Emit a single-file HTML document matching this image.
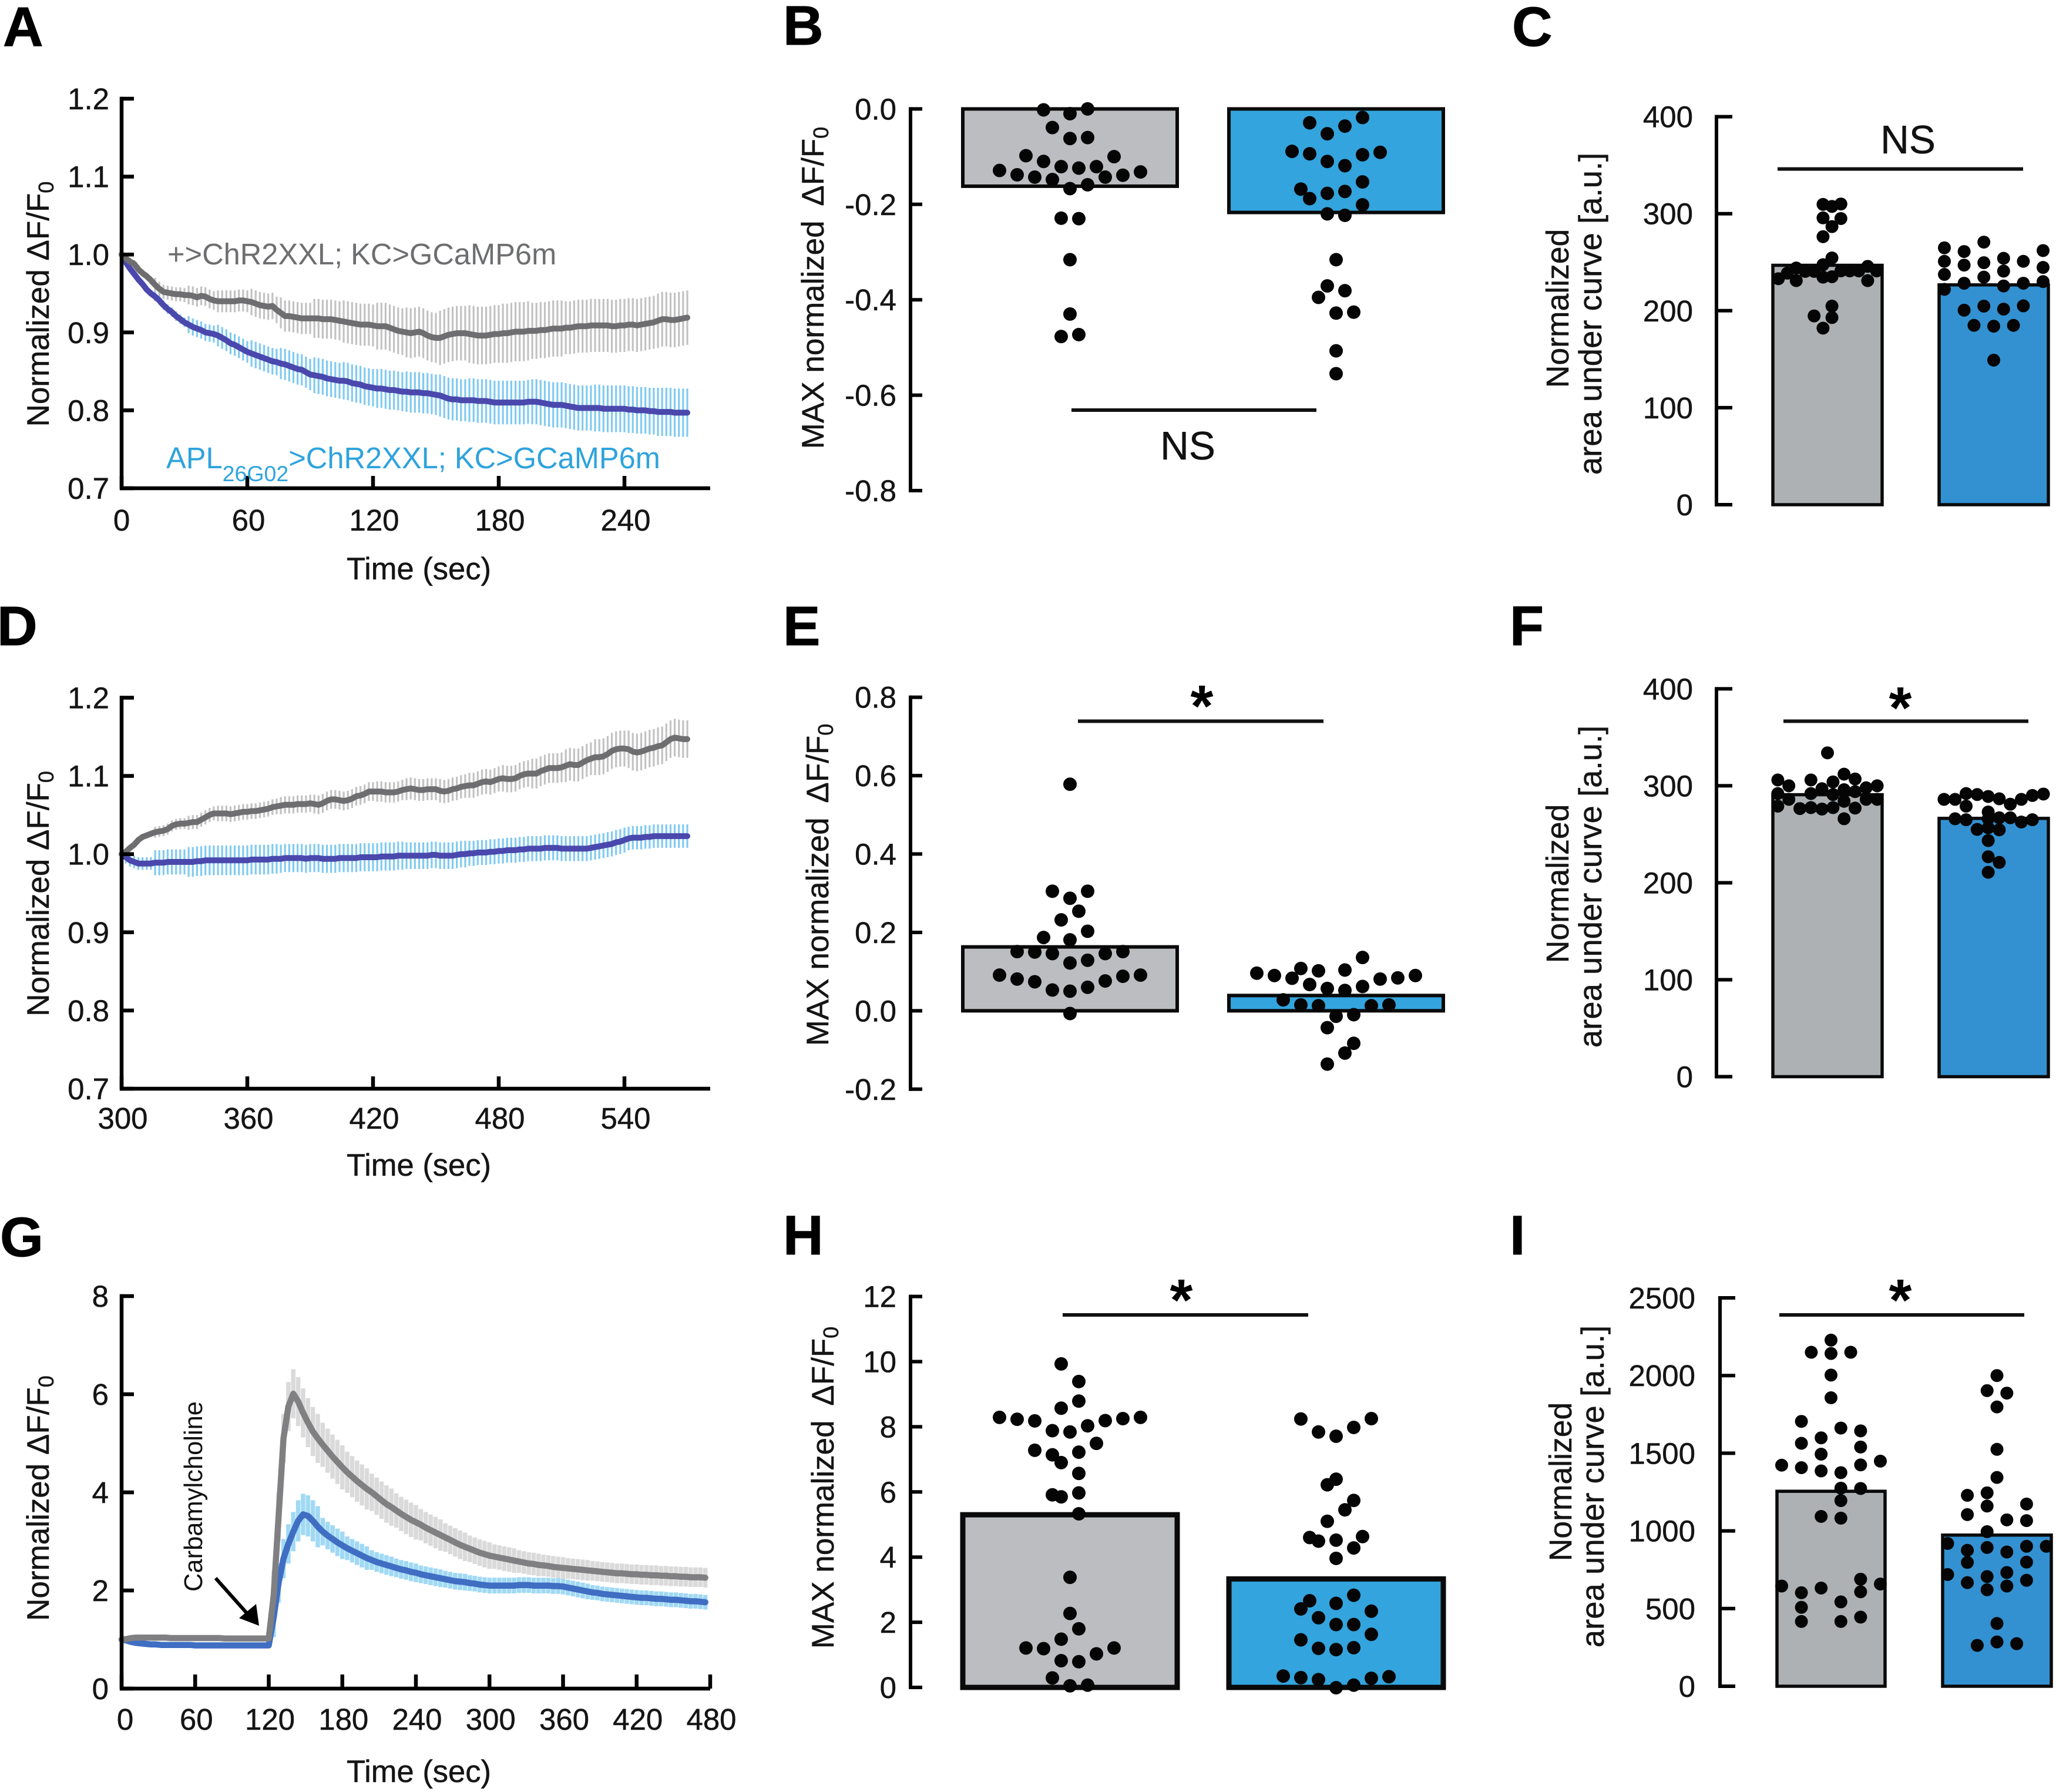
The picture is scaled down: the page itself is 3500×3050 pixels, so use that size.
<!DOCTYPE html>
<html lang="en">
<head>
<meta charset="utf-8">
<title>Normalized calcium response panels A to I</title>
<style>
html,body{margin:0;padding:0;background:#fff;}
svg{display:block;font-family:"Liberation Sans",sans-serif;}
.letter{font-size:95px;font-weight:bold;fill:#000;stroke:#000;stroke-width:1;}
.axis-title{font-size:53px;fill:#151515;text-anchor:middle;stroke:#151515;stroke-width:.5;}
.line-two{font-size:54.5px;}
.line-one{font-size:53.5px;}
.time-title{font-size:52.5px;}
.tick-text{font-size:51px;fill:#151515;stroke:#151515;stroke-width:.5;}
.sig{font-size:67.5px;fill:#111;text-anchor:middle;stroke:#111;stroke-width:.5;}
.star{font-size:100px;font-weight:bold;fill:#000;text-anchor:middle;}
</style>
</head>
<body>
<svg id="figure" xmlns="http://www.w3.org/2000/svg" width="3500" height="3050" viewBox="0 0 3500 3050">
<rect x="0" y="0" width="3500" height="3050" fill="#fff"/>

<g id="panel-a">
<text class="letter" x="5" y="78">A</text>
<text class="axis-title" transform="translate(83,517.5) rotate(-90)">Normalized ΔF/F<tspan font-size="36" dy="8">0</tspan></text>
<text class="axis-title time-title" x="713" y="986">Time (sec)</text>
</g>
<g id="panel-b">
<text class="letter" x="1333" y="76">B</text>
<text class="axis-title" transform="translate(1402,490) rotate(-90)">MAX normalized <tspan dx="10">ΔF/F</tspan><tspan font-size="36" dy="8">0</tspan></text>
</g>
<g id="panel-c">
<text class="letter" x="2574" y="78">C</text>
<text class="axis-title line-one" transform="translate(2670,525) rotate(-90)">Normalized</text>
<text class="axis-title line-two" transform="translate(2726,534) rotate(-90)">area under curve [a.u.]</text>
</g>
<g id="panel-d">
<text class="letter" x="-5" y="1098">D</text>
<text class="axis-title" transform="translate(83,1521) rotate(-90)">Normalized ΔF/F<tspan font-size="36" dy="8">0</tspan></text>
<text class="axis-title time-title" x="713" y="2001">Time (sec)</text>
</g>
<g id="panel-e">
<text class="letter" x="1333" y="1098">E</text>
<text class="axis-title" transform="translate(1410,1506) rotate(-90)">MAX normalized <tspan dx="10">ΔF/F</tspan><tspan font-size="36" dy="8">0</tspan></text>
</g>
<g id="panel-f">
<text class="letter" x="2570" y="1098">F</text>
<text class="axis-title line-one" transform="translate(2670,1504) rotate(-90)">Normalized</text>
<text class="axis-title line-two" transform="translate(2726,1509) rotate(-90)">area under curve [a.u.]</text>
</g>
<g id="panel-g">
<text class="letter" x="0" y="2138">G</text>
<text class="axis-title" transform="translate(83,2550) rotate(-90)">Normalized ΔF/F<tspan font-size="36" dy="8">0</tspan></text>
<text class="axis-title time-title" x="713" y="3033">Time (sec)</text>
</g>
<g id="panel-h">
<text class="letter" x="1333" y="2135">H</text>
<text class="axis-title" transform="translate(1419,2532) rotate(-90)">MAX normalized <tspan dx="10">ΔF/F</tspan><tspan font-size="36" dy="8">0</tspan></text>
</g>
<g id="panel-i">
<text class="letter" x="2570" y="2135">I</text>
<text class="axis-title line-one" transform="translate(2675,2522) rotate(-90)">Normalized</text>
<text class="axis-title line-two" transform="translate(2730,2530) rotate(-90)">area under curve [a.u.]</text>
</g>
<g id="overlays"></g>
</svg>

<script>
/* ---------- Panel A data (one sample every 2 s) ---------- */
const aYLabels = ['0.7','0.8','0.9','1.0','1.1','1.2'];
const aXLabels = ['0','60','120','180','240'];
const aGrayMean = [1.000,.995,.991,.988,.981,.976,.972,.967,.961,.956,.952,.951,.950,.949,.949,.948,.948,.947,.945,.947,.946,.943,.941,.940,.940,.940,.940,.940,.941,.941,.940,.939,.937,.935,.934,.933,.934,.929,.925,.921,.921,.920,.919,.918,.918,.918,.918,.918,.917,.917,.917,.916,.915,.914,.913,.912,.911,.910,.910,.910,.909,.908,.908,.908,.906,.904,.902,.901,.900,.899,.900,.901,.899,.896,.894,.893,.893,.895,.897,.898,.899,.899,.899,.898,.897,.896,.896,.896,.897,.898,.898,.899,.899,.900,.901,.901,.901,.902,.902,.902,.903,.903,.904,.905,.905,.905,.906,.906,.907,.908,.908,.908,.909,.909,.909,.909,.909,.908,.908,.909,.909,.910,.910,.909,.910,.911,.912,.913,.915,.917,.917,.916,.916,.917,.918,.919];
const aBlueMean = [1.000,.990,.982,.975,.968,.962,.955,.950,.946,.941,.935,.930,.926,.921,.917,.913,.910,.907,.905,.903,.900,.899,.898,.896,.893,.890,.886,.884,.881,.878,.875,.873,.871,.869,.867,.865,.863,.862,.860,.859,.857,.855,.853,.852,.849,.846,.845,.844,.843,.841,.840,.839,.838,.838,.837,.835,.834,.833,.831,.830,.829,.828,.828,.827,.826,.826,.825,.824,.824,.823,.823,.823,.822,.822,.821,.820,.819,.817,.815,.814,.814,.813,.813,.813,.813,.812,.812,.812,.811,.810,.810,.810,.810,.810,.810,.810,.810,.811,.811,.811,.810,.809,.808,.807,.807,.807,.806,.805,.804,.803,.803,.803,.803,.803,.803,.802,.802,.802,.802,.802,.802,.801,.801,.800,.800,.800,.799,.799,.798,.798,.798,.798,.797,.797,.797,.797];
const aGrayErr = [.005,.009,.012,.014,.017,.020,.025,.027,.030,.032,.035,.037,.038,.036,.034,.034,.034,.035,.036];
const aBlueErr = [.003,.006,.011,.014,.017,.020,.023,.024,.025,.026,.027,.028,.028,.029,.029,.030,.030,.031,.032];

/* ---------- Panel D data (one sample every 2 s) ---------- */
const dYLabels = ['0.7','0.8','0.9','1.0','1.1','1.2'];
const dXLabels = ['300','360','420','480','540'];
const dGrayMean = [1.000,1.003,1.008,1.012,1.018,1.022,1.024,1.026,1.028,1.029,1.030,1.032,1.036,1.038,1.039,1.039,1.040,1.041,1.041,1.044,1.047,1.050,1.052,1.052,1.052,1.052,1.051,1.052,1.053,1.054,1.054,1.055,1.055,1.056,1.057,1.058,1.060,1.061,1.062,1.063,1.063,1.063,1.064,1.064,1.064,1.065,1.064,1.063,1.065,1.068,1.070,1.070,1.069,1.068,1.069,1.071,1.074,1.075,1.077,1.080,1.080,1.080,1.080,1.079,1.079,1.079,1.080,1.082,1.083,1.084,1.083,1.082,1.082,1.083,1.083,1.083,1.081,1.080,1.081,1.083,1.084,1.086,1.087,1.088,1.088,1.090,1.092,1.093,1.092,1.094,1.096,1.097,1.096,1.096,1.097,1.100,1.102,1.103,1.103,1.103,1.106,1.108,1.110,1.110,1.110,1.111,1.113,1.115,1.114,1.114,1.117,1.120,1.122,1.124,1.124,1.125,1.128,1.132,1.134,1.135,1.135,1.134,1.131,1.130,1.131,1.133,1.135,1.136,1.138,1.139,1.143,1.147,1.149,1.148,1.147,1.147];
const dBlueMean = [1.000,.996,.992,.990,.988,.988,.988,.988,.989,.989,.989,.990,.990,.990,.990,.990,.990,.990,.991,.991,.992,.992,.992,.992,.992,.992,.992,.992,.992,.992,.992,.993,.993,.993,.993,.993,.994,.994,.994,.995,.995,.995,.995,.995,.994,.995,.995,.995,.994,.994,.994,.994,.995,.995,.995,.995,.995,.996,.996,.996,.996,.996,.997,.997,.997,.997,.998,.998,.998,.998,.998,.998,.998,.998,.999,.999,.998,.998,.998,.998,.999,1.000,1.000,1.001,1.001,1.002,1.002,1.002,1.003,1.003,1.004,1.004,1.005,1.005,1.005,1.006,1.006,1.007,1.007,1.007,1.007,1.008,1.008,1.008,1.008,1.007,1.007,1.007,1.007,1.007,1.007,1.007,1.008,1.009,1.010,1.011,1.012,1.013,1.015,1.016,1.018,1.020,1.021,1.021,1.021,1.022,1.022,1.023,1.023,1.023,1.023,1.023,1.023,1.023,1.023,1.023];
const dGrayErr = [.004,.007,.009,.010,.010,.011,.012,.012,.013,.014,.015,.016,.017,.019,.021,.023,.024,.024,.024];
const dBlueErr = [.008,.016,.019,.019,.019,.018,.018,.018,.018,.017,.017,.016,.016,.016,.016,.016,.015,.015,.015];

/* ---------- Panel G data (one sample every 4 s) ---------- */
const gYLabels = ['0','2','4','6','8'];
const gXLabels = ['0','60','120','180','240','300','360','420','480'];
const gGrayMean = [1.00,1.01,1.03,1.04,1.04,1.04,1.04,1.04,1.04,1.04,1.03,1.03,1.03,1.03,1.03,1.03,1.03,1.03,1.03,1.03,1.03,1.02,1.02,1.02,1.02,1.02,1.02,1.02,1.02,1.02,1.02,1.90,3.50,5.10,5.75,6.01,5.85,5.62,5.42,5.24,5.10,4.97,4.85,4.73,4.62,4.51,4.41,4.32,4.23,4.15,4.07,4.00,3.92,3.84,3.76,3.70,3.63,3.56,3.50,3.44,3.39,3.34,3.28,3.23,3.18,3.13,3.08,3.03,2.98,2.93,2.89,2.85,2.81,2.77,2.74,2.71,2.69,2.67,2.65,2.63,2.61,2.59,2.57,2.55,2.54,2.52,2.51,2.50,2.48,2.47,2.46,2.45,2.44,2.43,2.42,2.41,2.40,2.39,2.38,2.37,2.36,2.35,2.35,2.34,2.33,2.33,2.32,2.32,2.31,2.31,2.30,2.30,2.29,2.29,2.28,2.28,2.27,2.27,2.27,2.26];
const gBlueMean = [1.00,.98,.95,.93,.92,.91,.90,.90,.89,.89,.89,.89,.89,.89,.89,.88,.88,.88,.88,.88,.88,.88,.88,.88,.88,.88,.88,.88,.88,.88,.88,1.45,2.15,2.65,2.95,3.20,3.42,3.55,3.52,3.42,3.30,3.20,3.12,3.05,2.98,2.92,2.86,2.81,2.76,2.71,2.66,2.62,2.58,2.55,2.52,2.49,2.46,2.43,2.41,2.38,2.36,2.33,2.31,2.29,2.27,2.25,2.23,2.21,2.19,2.18,2.17,2.15,2.14,2.12,2.11,2.10,2.10,2.10,2.10,2.10,2.10,2.11,2.11,2.11,2.10,2.10,2.10,2.10,2.09,2.09,2.08,2.06,2.04,2.02,2.00,1.98,1.96,1.95,1.93,1.92,1.91,1.90,1.89,1.88,1.87,1.86,1.85,1.85,1.84,1.83,1.83,1.82,1.81,1.81,1.80,1.79,1.78,1.78,1.77,1.76];
const gGrayErr = [.05,.05,.05,.05,.05,.05,.50,.50,.45,.42,.38,.35,.32,.29,.27,.25,.23,.22,.21,.20,.20,.20,.20,.20,.20];
const gBlueErr = [.04,.04,.04,.04,.04,.04,.40,.42,.28,.24,.20,.19,.18,.17,.16,.16,.16,.16,.16,.15,.15,.15,.15,.15,.15];

/* ---------- Panel B data ---------- */
const bYLabels = ['-0.8','-0.6','-0.4','-0.2','0.0'];
const bMeans = [-.162,-.217];
const bGrayValues = [-.002,-.010,.000,-.039,-.062,-.060,-.098,-.100,-.110,-.121,-.124,-.121,-.129,-.138,-.143,-.148,-.143,-.139,-.132,-.167,-.159,-.229,-.230,-.316,-.430,-.477,-.473];
const bGraySlots = [-3,0,2,-2,0,2,-5,5,-3,-1,1,3,-8,-6,-4,-2,4,6,8,0,2,-1,1,0,0,-1,1];
const bBlueValues = [-.029,-.036,-.018,-.052,-.089,-.094,-.110,-.119,-.096,-.091,-.153,-.168,-.188,-.177,-.173,-.201,-.220,-.223,-.316,-.371,-.381,-.395,-.428,-.426,-.507,-.555];
const bBlueSlots = [-3,1,3,-1,-5,-3,-1,1,3,5,3,-4,-3,-1,1,3,-1,1,0,-1,1,-2,0,2,0,0];

/* ---------- Panel C data ---------- */
const cYLabels = ['0','100','200','300','400'];
const cMeans = [246.8,226.6];
const cGrayValues = [309.6,307.5,310,295.7,295,286.7,276.3,254.4,247.4,244,245.7,238.7,240.5,240.5,241,241,241,241,233,231,234.6,235,231,204.7,194.6,192.9,182];
const cGraySlots = [-.5,.5,1.5,-.5,1.5,.5,-.5,.5,-.5,-3.5,4.5,-4.5,-2.5,-1.5,1.5,2.5,3.5,5.5,-5.5,-3.5,-.5,.5,4.5,.5,-1.5,.5,-.5];
const cBlueValues = [264.8,250.9,237.4,222,261,247,228.3,200.5,270.7,249.5,234.6,204.7,254,240.8,225.5,201.6,250.9,228.3,205,262,244.6,230,184.9,184,184.9,149];
const cBlueSlots = [-5,-5,-5,-5,-3,-3,-3,-3,-1,-1,-1,-1,1,1,1,1,3,3,3,5,5,5,-2,0,2,0];

/* ---------- Panel E data ---------- */
const eYLabels = ['-0.2','0.0','0.2','0.4','0.6','0.8'];
const eMeans = [.163,.039];
const eGrayValues = [.578,.305,.305,.287,.254,.232,.203,.187,.181,.151,.150,.146,.146,.151,.129,.122,.091,.081,.074,.053,.050,.060,.076,.088,.091,-.007];
const eGraySlots = [0,-2,2,0,1,-1,2,-3,0,-6,-4,-2,4,6,2,0,-8,-6,-4,-2,0,2,4,6,8,0];
const eBlueValues = [.096,.090,.083,.108,.102,.104,.136,.067,.057,.052,.062,.081,.084,.090,.028,.015,.013,.013,.015,-.014,-.010,-.043,-.083,-.108,-.136];
const eBlueSlots = [-9,-7,-5,-4,-2,1,3,-3,-1,1,3,5,7,9,-6,-4,-2,4,6,0,2,-1,2,1,-1];

/* ---------- Panel F data ---------- */
const fYLabels = ['0','100','200','300','400'];
const fMeans = [290.8,266.4];
const fGrayValues = [334,312,306,306,307,300,304,300,297,296,298,292,292,291,294,286,286,286,284,279,276.5,277.5,276,277.5,277,266];
const fGraySlots = [0,1.5,-4.5,-1.5,2.5,-3.5,.5,4.5,-.5,1.5,3.5,-4.5,-1.5,.5,2.5,-3.5,3.5,4.5,1.5,-4.5,-2.5,-1.5,-.5,.5,2.5,1.5];
const fBlueValues = [286,286,292,291,289,286.6,281,286,290,291.5,279,273,266,265,267,267,262.6,265,266,255,256.7,254.6,243.5,226.8,221,210.8];
const fBlueSlots = [-4.5,-3.5,-2.5,-1.5,-.5,.5,1.5,2.5,3.5,4.5,-2.5,-.5,-3.5,-2.5,.5,1.5,2.5,3.5,-.5,-1.5,-.5,.5,-.5,-.5,.5,-.5];

/* ---------- Panel H data ---------- */
const hYLabels = ['0','2','4','6','8','10','12'];
const hMeans = [5.3,3.33];
const hGrayValues = [9.93,9.39,8.79,8.57,8.29,8.23,8.18,7.88,7.84,8.03,8.19,8.25,8.29,7.49,7.28,7.14,7.22,6.90,6.57,5.91,5.85,5.97,5.33,3.38,2.27,1.80,1.48,1.21,1.19,1.03,1.21,.82,.79,.29,.05,.07];
const hGraySlots = [-1,1,1,-1,-8,-6,-4,-2,0,2,4,6,8,3,-4,-2,1,-1,1,-2,-1,1,1,0,0,1,-1,-5,-3,3,5,-1,1,-2,0,2];
const hBlueValues = [8.24,7.84,7.71,7.98,8.25,6.39,6.22,5.74,5.45,5.10,4.60,4.49,4.52,4.63,4.28,3.96,2.83,2.66,2.58,2.41,2.34,2.14,1.93,1.93,1.63,1.46,1.20,1.16,1.22,.35,.30,.24,.33,.28,.07,-.01];
const hBlueSlots = [-4,-2,0,2,4,0,-1,2,1,-1,-3,-2,0,3,2,0,2,-3,0,-4,4,-2,0,2,4,-4,-2,0,2,-6,-4,-2,6,4,2,0];

/* ---------- Panel I data ---------- */
const iYLabels = ['0','500','1000','1500','2000','2500'];
const iMeans = [1255,973];
const iGrayValues = [2228,2150,2142,2150,2003,1857,1705,1662,1644,1599,1564,1540,1494,1449,1423,1407,1386,1375,1425,1275,1273,1195,1093,1082,689,645,658,632,602,608,543,508,417,417,445];
const iGraySlots = [0,-2,0,2,0,0,-3,1,3,-1,-3,3,-1,5,-5,-3,-1,1,3,1,3,1,-1,1,3,-5,5,-1,-3,3,1,-3,-3,1,3];
const iBlueValues = [2000,1903,1887,1798,1525,1344,1229,1245,1160,1173,1105,1071,1066,995,919,893,901,901,875,864,797,799,719,706,732,667,682,645,621,404,285,263,274];
const iBlueSlots = [0,-1,1,0,0,0,-3,-1,-1,3,-3,1,3,-1,-5,-1,3,5,-3,1,-3,3,-5,-1,1,-3,3,1,-1,0,0,-2,2];

/* ---------- Helpers ---------- */
const NS = 'http://www.w3.org/2000/svg';
function make(tag, attrs, parent) {
  const node = document.createElementNS(NS, tag);
  for (const key in attrs) node.setAttribute(key, attrs[key]);
  parent.appendChild(node);
  return node;
}
function linear(d0, d1, r0, r1) {
  return v => r0 + (v - d0) * (r1 - r0) / (d1 - d0);
}
function drawYAxis(parent, scale, labels, axisX, tickEnd, labelX, width) {
  const values = labels.map(parseFloat);
  const spine = make('line', {x1: axisX, x2: axisX, y1: scale(Math.min(...values)) + width / 2, y2: scale(Math.max(...values)) - width / 2, stroke: '#000', 'stroke-width': width}, parent);
  
  
  labels.forEach((label, i) => {
    const tick = make('line', {x1: axisX, x2: tickEnd, y1: scale(values[i]), y2: scale(values[i]), stroke: '#000', 'stroke-width': width}, parent);
    
    
    const text = make('text', {x: labelX, y: scale(values[i]) + 18, 'text-anchor': 'end', class: 'tick-text'}, parent);
    text.textContent = label;
    
    
  });
}
function drawXAxis(parent, scale, labels, axisY, axisStart, axisEnd, tickLen, labelY, width, zeroShift) {
  const spine = make('line', {x1: axisStart, x2: axisEnd, y1: axisY, y2: axisY, stroke: '#000', 'stroke-width': width}, parent);
  
  
  labels.forEach((label, i) => {
    const v = parseFloat(label);
    const tick = make('line', {x1: scale(v), x2: scale(v), y1: axisY, y2: axisY - tickLen, stroke: '#000', 'stroke-width': width}, parent);
    
    
    const text = make('text', {x: scale(v) + (i === 0 ? zeroShift : 2), y: labelY, 'text-anchor': 'middle', class: 'tick-text'}, parent);
    text.textContent = label;
    
    
  });
}
function drawErrors(parent, x, y, t0, step, means, errs, binWidth, color, width) {
  means.forEach((m, i) => {
    const t = t0 + i * step;
    const bin = Math.max(0, Math.min(errs.length - 1, Math.floor((t - t0 - 1) / binWidth)));
    const bar = make('line', {x1: x(t), x2: x(t), y1: y(m - errs[bin]), y2: y(m + errs[bin]), stroke: color, 'stroke-width': width}, parent);
    
    
  });
}
function drawLine(parent, x, y, t0, step, means, color, width) {
  const d = means.map((m, i) => (i ? 'L' : 'M') + x(t0 + i * step).toFixed(1) + ' ' + y(m).toFixed(1)).join('');
  const path = make('path', {d: d, fill: 'none', stroke: color, 'stroke-width': width, 'stroke-linejoin': 'round', 'stroke-linecap': 'round'}, parent);
  
  
}
function drawBar(parent, y, mean, base, left, right, fill, stroke) {
  const top = Math.min(y(mean), y(base));
  const h = Math.abs(y(mean) - y(base));
  const bar = make('rect', {x: left, y: top, width: right - left, height: h, fill: fill, stroke: '#0a0a0a', 'stroke-width': stroke}, parent);
  
  
}
function drawSwarm(parent, y, values, slots, center, slotWidth, radius) {
  values.forEach((v, i) => {
    const dot = make('circle', {cx: center + slots[i] * slotWidth, cy: y(v), r: radius, fill: '#050505'}, parent);
    
    
  });
}
function panel(id) { return document.getElementById(id); }

/* ---------- Line panels ---------- */
const GRAY_LINE = '#6e6e70', BLUE_LINE = '#4a48ad', GRAY_ERR = '#c2c2c2', BLUE_ERR = '#80caf0';

(function () {
  const p = panel('panel-a');
  const y = linear(0.7, 1.2, 831, 168);
  const x = linear(0, 60, 207, 421);
  drawErrors(p, x, y, 0, 2, aGrayMean, aGrayErr, 15, GRAY_ERR, 3.2);
  drawErrors(p, x, y, 0, 2, aBlueMean, aBlueErr, 15, BLUE_ERR, 3.2);
  drawLine(p, x, y, 0, 2, aBlueMean, BLUE_LINE, 10);
  drawLine(p, x, y, 0, 2, aGrayMean, GRAY_LINE, 10);
  drawYAxis(p, y, aYLabels, 207, 228, 186, 6.5);
  drawXAxis(p, x, aXLabels, 831, 204, 1209, 21, 903, 6.5, 0);
})();

(function () {
  const p = panel('panel-d');
  const y = linear(0.7, 1.2, 1853, 1187.5);
  const x = linear(300, 360, 207, 421);
  drawErrors(p, x, y, 300, 2, dGrayMean, dGrayErr, 15, GRAY_ERR, 3.2);
  drawErrors(p, x, y, 300, 2, dBlueMean, dBlueErr, 15, BLUE_ERR, 3.2);
  drawLine(p, x, y, 300, 2, dBlueMean, BLUE_LINE, 10);
  drawLine(p, x, y, 300, 2, dGrayMean, GRAY_LINE, 10);
  drawYAxis(p, y, dYLabels, 207, 228, 186, 6.5);
  drawXAxis(p, x, dXLabels, 1853, 204, 1209, 21, 1921, 6.5, 2);
})();

(function () {
  const p = panel('panel-g');
  const y = linear(0, 8, 2874, 2206);
  const x = linear(0, 60, 207, 332.25);
  drawErrors(p, x, y, 0, 4, gGrayMean, gGrayErr, 20, '#dadada', 7.5);
  drawErrors(p, x, y, 0, 4, gBlueMean, gBlueErr, 20, '#a0d9f4', 7.5);
  drawLine(p, x, y, 0, 4, gBlueMean, '#3f6ec2', 10.5);
  drawLine(p, x, y, 0, 4, gGrayMean, '#808082', 10.5);
  drawYAxis(p, y, gYLabels, 207, 228, 185, 6.5);
  drawXAxis(p, x, gXLabels, 2874, 204, 1209, 24, 2944, 6.5, 6);
  const label = make('text', {transform: 'translate(344,2547) rotate(-90)', 'text-anchor': 'middle', 'font-size': 43.5, fill: '#111'}, p);
  label.textContent = 'Carbamylcholine';
  
  
  const shaft = make('line', {x1: 367, y1: 2686, x2: 425, y2: 2751, stroke: '#000', 'stroke-width': 6}, p);
  
  
  const head = make('polygon', {points: '441,2767 407,2754 436,2730', fill: '#000'}, p);
  
  
  const a = panel('panel-a');
  const grayLabel = make('text', {x: 285, y: 450, 'font-size': 50.6, fill: '#6d6e70'}, a);
  grayLabel.textContent = '+>ChR2XXL; KC>GCaMP6m';
  
  
  const blueLabel = make('text', {x: 283, y: 797, 'font-size': 50.6, fill: '#2ea3dd'}, a);
  
  
  blueLabel.appendChild(document.createTextNode('APL'));
  const sub = make('tspan', {'font-size': 37.5, dy: 22}, blueLabel);
  sub.textContent = '26G02';
  const rest = make('tspan', {dy: -22}, blueLabel);
  rest.textContent = '>ChR2XXL; KC>GCaMP6m';
})();

/* ---------- Bar panels ---------- */
function barPanel(id, cfg, yLabels, means, grayV, grayS, blueV, blueS) {
  const p = panel(id);
  const values = yLabels.map(parseFloat);
  const y = linear(Math.min(...values), Math.max(...values), cfg.yBottom, cfg.yTop);
  drawBar(p, y, means[0], cfg.base, cfg.gray[0], cfg.gray[1], cfg.grayFill, cfg.stroke);
  drawBar(p, y, means[1], cfg.base, cfg.blue[0], cfg.blue[1], cfg.blueFill, cfg.stroke);
  drawSwarm(p, y, grayV, grayS, (cfg.gray[0] + cfg.gray[1]) / 2 + cfg.shift, cfg.graySlot, cfg.r);
  drawSwarm(p, y, blueV, blueS, (cfg.blue[0] + cfg.blue[1]) / 2 + cfg.shift, cfg.blueSlot, cfg.r);
  drawYAxis(p, y, yLabels, cfg.axisX, cfg.tickEnd, cfg.labelX, 6);
}
const MID = {gray: [1639, 2004], blue: [2092, 2457], grayFill: '#bcbdc0', blueFill: '#33a4dd', graySlot: 15, blueSlot: 15, r: 11.5, axisX: 1550, tickEnd: 1570, labelX: 1526, shift: 0};
const RIGHT = {gray: [3018, 3204], blue: [3301, 3487], grayFill: '#aeb1b3', blueFill: '#3391d1', r: 11, axisX: 2922, tickEnd: 2949, labelX: 2882, stroke: 5.5, base: 0, shift: 0};

barPanel('panel-b', Object.assign({}, MID, {yBottom: 835, yTop: 185.4, base: 0, stroke: 6}), bYLabels, bMeans, bGrayValues, bGraySlots, bBlueValues, bBlueSlots);
barPanel('panel-e', Object.assign({}, MID, {yBottom: 1853.8, yTop: 1186.7, base: 0, stroke: 6}), eYLabels, eMeans, eGrayValues, eGraySlots, eBlueValues, eBlueSlots);
barPanel('panel-h', Object.assign({}, MID, {yBottom: 2872, yTop: 2206.6, base: 0, stroke: 9}), hYLabels, hMeans, hGrayValues, hGraySlots, hBlueValues, hBlueSlots);
barPanel('panel-c', Object.assign({}, RIGHT, {yBottom: 859, yTop: 198.6, graySlot: 15.2, blueSlot: 16.8}), cYLabels, cMeans, cGrayValues, cGraySlots, cBlueValues, cBlueSlots);
barPanel('panel-f', Object.assign({}, RIGHT, {yBottom: 1832.5, yTop: 1172.4, graySlot: 18.8, blueSlot: 18.8}), fYLabels, fMeans, fGrayValues, fGraySlots, fBlueValues, fBlueSlots);
barPanel('panel-i', Object.assign({}, RIGHT, {gray: [3025, 3209], blue: [3307, 3492], axisX: 2928, tickEnd: 2954, labelX: 2886, yBottom: 2870, yTop: 2209, graySlot: 16.8, blueSlot: 16.8}), iYLabels, iMeans, iGrayValues, iGraySlots, iBlueValues, iBlueSlots);

/* ---------- Significance annotations ---------- */
const overlays = document.getElementById('overlays');
function sigLine(x1, x2, y) {
  const line = make('line', {x1: x1, x2: x2, y1: y, y2: y, stroke: '#111', 'stroke-width': 6}, overlays);
  
  
}
function sigText(text, cls, x, y) {
  const node = make('text', {x: x, y: y, class: cls}, overlays);
  node.textContent = text;
  
  
}
sigLine(1824, 2241, 698);
sigText('NS', 'sig', 2022, 782);
sigLine(3026, 3444, 287.6);
sigText('NS', 'sig', 3248, 261);
sigLine(1835, 2253, 1227.5);
sigText('*', 'star', 2046, 1236);
sigLine(3036, 3453, 1227.5);
sigText('*', 'star', 3235, 1239);
sigLine(1809, 2227, 2238);
sigText('*', 'star', 2011, 2247);
sigLine(3029, 3446, 2238);
sigText('*', 'star', 3235, 2247);
</script>
</body>
</html>
